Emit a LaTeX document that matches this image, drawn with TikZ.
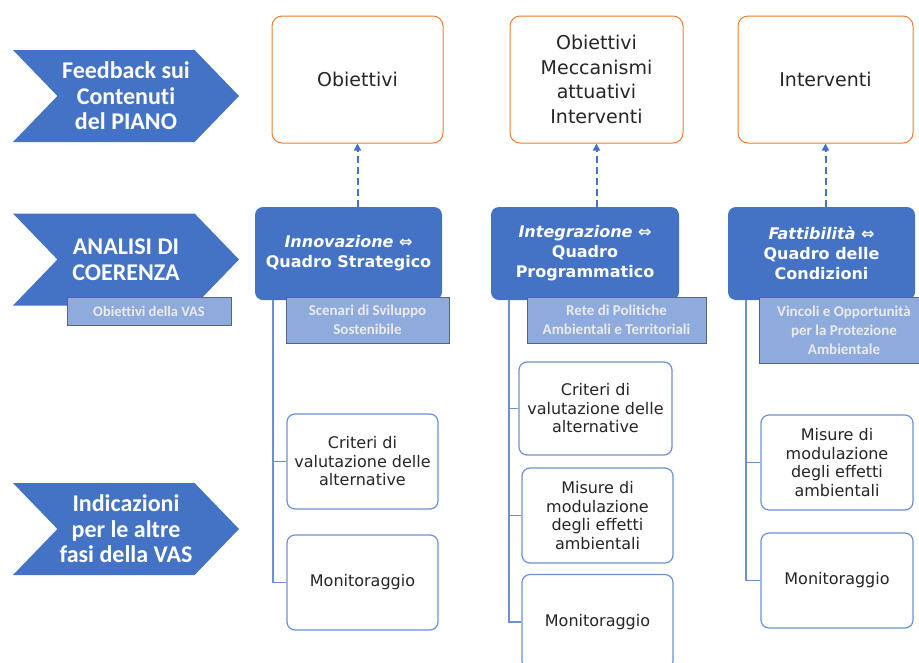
\documentclass[tikz,border=0pt]{standalone}
\usepackage{fontspec}
\setmainfont{DejaVu Sans}
\newfontfamily\calfont[Ligatures=NoCommon,RawFeature={-dlig}]{Carlito}
\usetikzlibrary{shapes.symbols}
\usetikzlibrary{arrows.meta}
\definecolor{ofblue}{HTML}{4472C4}
\definecolor{ofltblue}{HTML}{8FAADC}
\definecolor{oforange}{HTML}{ED7D31}
\definecolor{ofslate}{HTML}{56647E}
\definecolor{oftree}{HTML}{6F8FD3}
\definecolor{oftext}{HTML}{262626}
\newcommand{\treeoff}{18pt}
\newcommand{\colxa}{357.5}
\newcommand{\colxb}{596.5}
\newcommand{\colxc}{825.5}
\newcommand{\rowya}{79.5}
\newcommand{\rowyb}{253.5}
\tikzset{
  chevron/.style={signal, signal from=west, signal to=east,
    signal pointer angle=92, fill=ofblue, draw=none,
    minimum width=226pt, minimum height=92pt, inner sep=0pt,
    text=white, align=center,
    font=\calfont\bfseries\fontsize{24}{25.5}\selectfont},
  topbox/.style={draw=oforange, line width=1pt, rounded corners=10pt,
    fill=white, text=oftext, align=center, inner sep=0pt,
    minimum height=127pt, font=\fontsize{19}{24.5}\selectfont},
  headbox/.style={fill=ofblue, rounded corners=8pt, text=white,
    align=center, inner sep=0pt, minimum width=187pt, minimum height=93pt,
    font=\bfseries\fontsize{16}{20}\selectfont},
  subbox/.style={fill=ofltblue, draw=ofslate, line width=1pt,
    text=white!92!black, align=center, inner sep=0pt,
    font=\calfont\bfseries\fontsize{15}{19}\selectfont},
  lowbox/.style={draw=oftree, line width=1.2pt, rounded corners=8pt,
    fill=white, text=oftext, align=center, inner sep=0pt,
    minimum height=95pt, font=\fontsize{16}{18.5}\selectfont},
  treeline/.style={draw=oftree, line width=1.4pt},
  dasharrow/.style={draw=ofblue, line width=2pt, dash pattern=on 7pt off 4pt,
    -{Triangle[length=7pt,width=7pt]}}
}
\begin{document}
\begin{tikzpicture}[x=1pt,y=-1pt]
  \clip (0,0) rectangle (919,662);

  % left column
  \node[chevron] (chfeed) at (126,96) {Feedback sui\\Contenuti\\del PIANO};
  \node[chevron] (chanal) at (126,259.5) {ANALISI DI\\COERENZA};
  \node[chevron] (chind) at (126,529) {Indicazioni\\per le altre\\fasi della VAS};
  \node[subbox, minimum width=164pt, minimum height=28pt, font=\calfont\bfseries\fontsize{14.5}{19}\selectfont]
    (obvas) at (149,311) {Obiettivi della VAS};

  % piano contents
  \node[topbox, minimum width=171pt] (obi) at (\colxa,\rowya) {Obiettivi};
  \node[topbox, minimum width=173pt] (mec) at (\colxb,\rowya)
    {Obiettivi\\Meccanismi\\attuativi\\Interventi};
  \node[topbox, minimum width=175pt] (int) at (\colxc,\rowya) {Interventi};

  % coherence frames
  \node[headbox] (inno) at (348.5,\rowyb)
    {\textit{Innovazione} ⇔\\Quadro Strategico};
  \node[headbox, minimum width=188pt] (integ) at (585,\rowyb)
    {\textit{Integrazione} ⇔\\Quadro\\Programmatico};
  \node[headbox] (fatt) at (821.5,\rowyb)
    {\textit{Fattibilità} ⇔\\Quadro delle\\Condizioni};

  \node[subbox, minimum width=163pt, minimum height=46pt] (scen) at (367.5,320)
    {Scenari di Sviluppo\\Sostenibile};
  \node[subbox, minimum width=179pt, minimum height=46pt] (rete) at (616.5,320)
    {Rete di Politiche\\Ambientali e Territoriali};
  \node[subbox, minimum width=170pt, minimum height=66pt] (vinc) at (844,330)
    {Vincoli e Opportunità\\per la Protezione\\Ambientale};

  % other phases
  \node[lowbox, minimum width=151pt] (crita) at (362.5,461.5)
    {Criteri di\\valutazione delle\\alternative};
  \node[lowbox, minimum width=151pt] (mona) at (362.5,582.5) {Monitoraggio};
  \node[lowbox, minimum width=153pt, minimum height=93pt] (critb) at (595.5,408.5)
    {Criteri di\\valutazione delle\\alternative};
  \node[lowbox, minimum width=151pt] (misb) at (597.5,515.5)
    {Misure di\\modulazione\\degli effetti\\ambientali};
  \node[lowbox, minimum width=151pt] (monb) at (597.5,622) {Monitoraggio};
  \node[lowbox, minimum width=152pt] (misc) at (837,462.5)
    {Misure di\\modulazione\\degli effetti\\ambientali};
  \node[lowbox, minimum width=152pt] (monc) at (837,580.5) {Monitoraggio};

  % feedback arrows
  \draw[dasharrow] (inno.north -| obi.south) -- (obi.south);
  \draw[dasharrow] (integ.north -| mec.south) -- (mec.south);
  \draw[dasharrow] (fatt.north -| int.south) -- (int.south);

  % tree connectors
  \draw[treeline] ([xshift=\treeoff]inno.south west) |- (crita.west);
  \draw[treeline] ([xshift=\treeoff]inno.south west) |- (mona.west);
  \draw[treeline] ([xshift=\treeoff]integ.south west) |- (critb.west);
  \draw[treeline] ([xshift=\treeoff]integ.south west) |- (misb.west);
  \draw[treeline] ([xshift=\treeoff]integ.south west) |- (monb.west);
  \draw[treeline] ([xshift=\treeoff]fatt.south west) |- (misc.west);
  \draw[treeline] ([xshift=\treeoff]fatt.south west) |- (monc.west);
\end{tikzpicture}
\end{document}
